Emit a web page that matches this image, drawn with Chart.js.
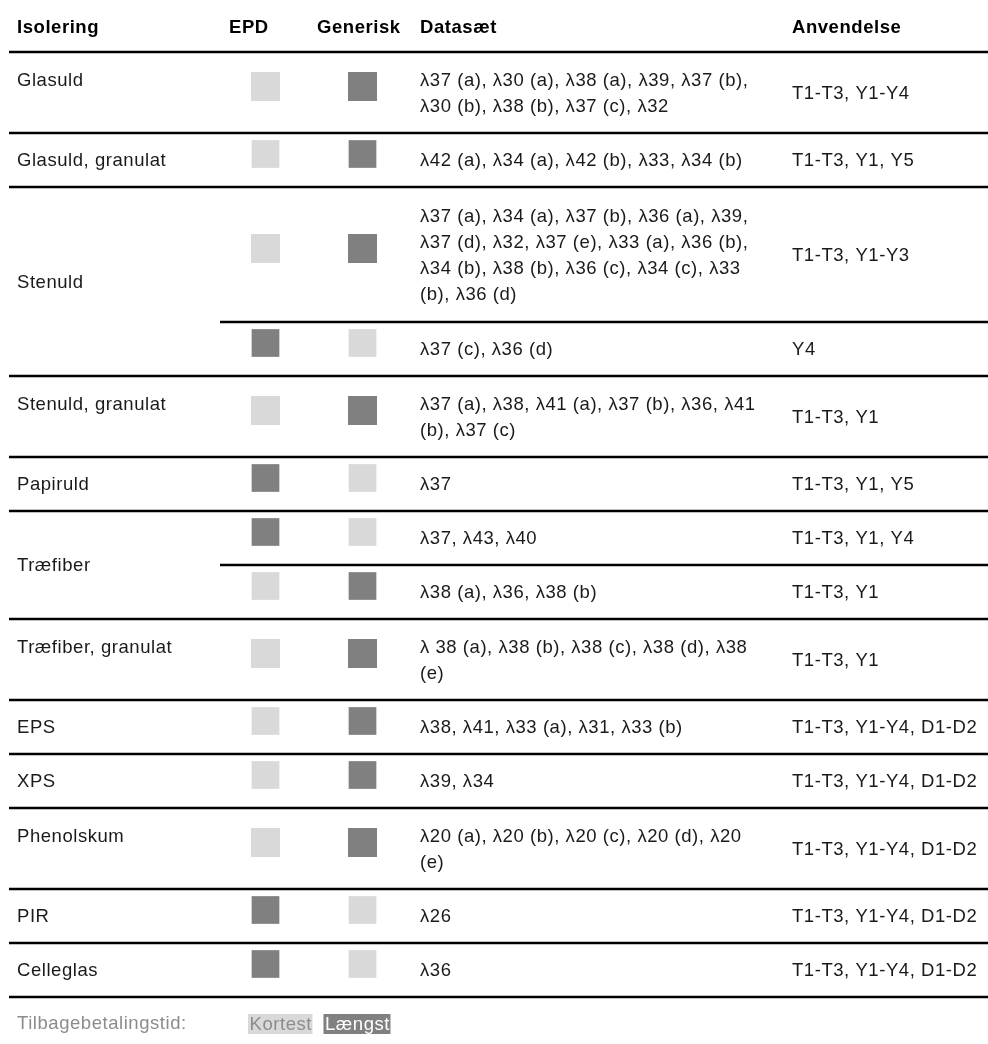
<!DOCTYPE html>
<html lang="da">
<head>
<meta charset="utf-8">
<title>Isolering - tilbagebetalingstid</title>
<script src="https://cdn.jsdelivr.net/npm/chart.js@4/dist/chart.umd.min.js"></script>
<style>
  html, body { margin: 0; padding: 0; background: #fff; }
  #wrap { width: 988px; height: 1044px; }
</style>
</head>
<body>
<div id="wrap"><canvas id="isoleringChart" width="988" height="1044"></canvas></div>
<script>
// Column headers
const headers = ['Isolering', 'EPD', 'Generisk', 'Datasæt', 'Anvendelse'];

// One entry per material group
const materials = ['Glasuld', 'Glasuld, granulat', 'Stenuld', 'Stenuld, granulat', 'Papiruld',
    'Træfiber', 'Træfiber, granulat', 'EPS', 'XPS', 'Phenolskum', 'PIR', 'Celleglas'];

// One entry per table row
const rowMaterial = [0, 1, 2, 2, 3, 4, 5, 5, 6, 7, 8, 9, 10, 11];
const epdPayback = ['Kortest', 'Kortest', 'Kortest', 'Længst', 'Kortest', 'Længst', 'Længst',
    'Kortest', 'Kortest', 'Kortest', 'Kortest', 'Kortest', 'Længst', 'Længst'];
const generiskPayback = ['Længst', 'Længst', 'Længst', 'Kortest', 'Længst', 'Kortest', 'Kortest',
    'Længst', 'Længst', 'Længst', 'Længst', 'Længst', 'Kortest', 'Kortest'];
const datasets = [
    ['λ37 (a), λ30 (a), λ38 (a), λ39, λ37 (b),', 'λ30 (b), λ38 (b), λ37 (c), λ32'],
    ['λ42 (a), λ34 (a), λ42 (b), λ33, λ34 (b)'],
    ['λ37 (a), λ34 (a), λ37 (b), λ36 (a), λ39,', 'λ37 (d), λ32, λ37 (e), λ33 (a), λ36 (b),',
        'λ34 (b), λ38 (b), λ36 (c), λ34 (c), λ33', '(b), λ36 (d)'],
    ['λ37 (c), λ36 (d)'],
    ['λ37 (a), λ38, λ41 (a), λ37 (b), λ36, λ41', '(b), λ37 (c)'],
    ['λ37'],
    ['λ37, λ43, λ40'],
    ['λ38 (a), λ36, λ38 (b)'],
    ['λ 38 (a), λ38 (b), λ38 (c), λ38 (d), λ38', '(e)'],
    ['λ38, λ41, λ33 (a), λ31, λ33 (b)'],
    ['λ39, λ34'],
    ['λ20 (a), λ20 (b), λ20 (c), λ20 (d), λ20', '(e)'],
    ['λ26'],
    ['λ36']
];
const anvendelse = ['T1-T3, Y1-Y4', 'T1-T3, Y1, Y5', 'T1-T3, Y1-Y3', 'Y4', 'T1-T3, Y1',
    'T1-T3, Y1, Y5', 'T1-T3, Y1, Y4', 'T1-T3, Y1', 'T1-T3, Y1', 'T1-T3, Y1-Y4, D1-D2',
    'T1-T3, Y1-Y4, D1-D2', 'T1-T3, Y1-Y4, D1-D2', 'T1-T3, Y1-Y4, D1-D2', 'T1-T3, Y1-Y4, D1-D2'];

// Legend
const legendTitle = 'Tilbagebetalingstid:';
const paybackLabels = ['Kortest', 'Længst'];
const paybackColors = { 'Kortest': '#d9d9d9', 'Længst': '#808080' };
const paybackText = { 'Kortest': '#8c8c8c', 'Længst': '#ffffff' };

// Layout
const FONT = '"Liberation Sans", Arial, Helvetica, sans-serif';
const FONT_SIZE = 18.5;
const SPACING = '0.55px';
const LINE_H = 26;
const UNIT = 27;
const TABLE_TOP = 52;
const RULE_LEFT = 9;
const SUB_RULE_LEFT = 220;
const COL_X = [17, 229, 317, 420, 792];
const SQUARE_X = { epd: 265.5, generisk: 362.5 };

// Row extents in table units (one text line = UNIT)
const rowTop = [];
const rowBottom = [];
let cursor = TABLE_TOP;
datasets.forEach(lines => {
    rowTop.push(cursor);
    cursor += UNIT * (lines.length + 1);
    rowBottom.push(cursor);
});
const rowCenter = rowTop.map((t, i) => (t + rowBottom[i]) / 2);

function squarePoints(key) {
    return rowCenter.map(c => ({ x: SQUARE_X[key], y: c - 6 }));
}
const squareRadius = datasets.map(lines => lines.length > 1 ? 20.5 : 19.6);

// Draw the table text, rules and legend
const tablePlugin = {
    id: 'tablePlugin',
    afterDraw(chart) {
        const ctx = chart.ctx;
        const xs = chart.scales.x;
        const ys = chart.scales.y;
        const px = v => xs.getPixelForValue(v);
        const py = v => ys.getPixelForValue(v);

        ctx.save();
        ctx.letterSpacing = SPACING;
        ctx.textBaseline = 'middle';
        ctx.textAlign = 'left';

        // Header
        ctx.font = 'bold ' + FONT_SIZE + 'px ' + FONT;
        ctx.fillStyle = '#000';
        headers.forEach((h, i) => ctx.fillText(h, px(COL_X[i]), py(28)));

        // Rules
        ctx.strokeStyle = '#000';
        ctx.lineWidth = 2.4;
        const rule = (x0, y) => {
            ctx.beginPath();
            ctx.moveTo(px(x0), py(y));
            ctx.lineTo(px(988), py(y));
            ctx.stroke();
        };
        rule(RULE_LEFT, TABLE_TOP);
        rowBottom.forEach((b, i) => {
            const sameGroup = i + 1 < rowMaterial.length && rowMaterial[i + 1] === rowMaterial[i];
            rule(sameGroup ? SUB_RULE_LEFT : RULE_LEFT, b);
        });

        // Body
        ctx.font = FONT_SIZE + 'px ' + FONT;
        ctx.fillStyle = '#1a1a1a';
        datasets.forEach((lines, r) => {
            lines.forEach((txt, i) => {
                const y = rowCenter[r] + (i - (lines.length - 1) / 2) * LINE_H + 1;
                ctx.fillText(txt, px(COL_X[3]), py(y));
            });
            ctx.fillText(anvendelse[r], px(COL_X[4]), py(rowCenter[r] + 1));
        });

        materials.forEach((m, g) => {
            const rows = rowMaterial.map((v, i) => v === g ? i : -1).filter(i => i >= 0);
            let y;
            if (rows.length > 1) {
                y = (rowTop[rows[0]] + rowBottom[rows[rows.length - 1]]) / 2 + 1;
            } else {
                const r = rows[0];
                y = rowCenter[r] - (datasets[r].length - 1) / 2 * LINE_H + 1;
            }
            ctx.fillText(m, px(COL_X[0]), py(y));
        });

        // Legend
        const ly = py(1024);
        ctx.fillStyle = '#8c8c8c';
        ctx.fillText(legendTitle, px(17), ly);
        let lx = px(248);
        paybackLabels.forEach(label => {
            const w = ctx.measureText(label).width + 2;
            ctx.fillStyle = paybackColors[label];
            ctx.fillRect(lx, ly - 10, w, 20);
            ctx.fillStyle = paybackText[label];
            ctx.fillText(label, lx + 1.5, ly + 1);
            lx += w + 11;
        });
        ctx.restore();
    }
};

// Initialize Chart
const ctx = document.getElementById('isoleringChart').getContext('2d');
const isoleringChart = new Chart(ctx, {
    type: 'scatter',
    data: {
        datasets: [{
            label: 'EPD',
            data: squarePoints('epd'),
            pointStyle: 'rect',
            pointRadius: squareRadius,
            pointBackgroundColor: epdPayback.map(p => paybackColors[p]),
            pointBorderWidth: 0
        }, {
            label: 'Generisk',
            data: squarePoints('generisk'),
            pointStyle: 'rect',
            pointRadius: squareRadius,
            pointBackgroundColor: generiskPayback.map(p => paybackColors[p]),
            pointBorderWidth: 0
        }]
    },
    options: {
        responsive: false,
        animation: false,
        events: [],
        layout: { padding: 0, autoPadding: false },
        scales: {
            x: { type: 'linear', min: 0, max: 988, display: false },
            y: { type: 'linear', min: 0, max: 1044, reverse: true, display: false }
        },
        plugins: {
            legend: { display: false },
            tooltip: { enabled: false }
        }
    },
    plugins: [tablePlugin]
});
</script>
</body>
</html>
